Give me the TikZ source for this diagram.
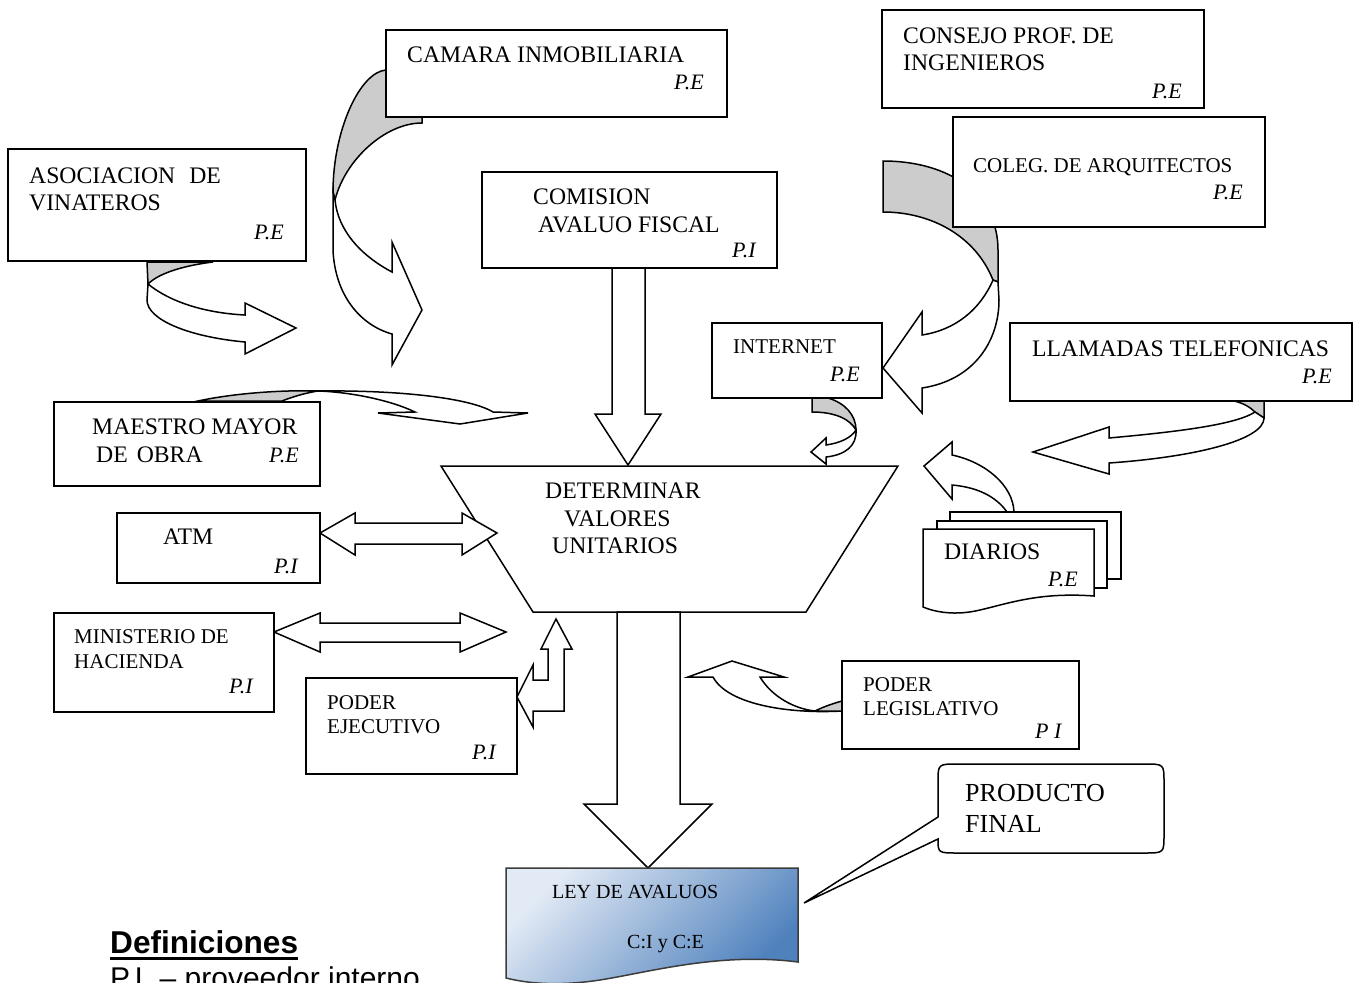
\documentclass[tikz,border=0pt]{standalone}
\usepackage{fontspec}
\setmainfont{Liberation Serif}
\newfontfamily\arialf{Liberation Sans}
\definecolor{shd}{RGB}{204,204,204}
\definecolor{leytop}{RGB}{226,234,245}
\definecolor{leybot}{RGB}{79,129,189}
\definecolor{leyline}{RGB}{60,60,60}
\begin{document}
\begin{tikzpicture}[x=1pt,y=-1pt,line join=miter,
  ln/.style={draw=black,line width=1.5pt},
  wb/.style={ln,fill=white},
  gb/.style={ln,fill=shd},
  tA/.style={anchor=base west,inner sep=0pt,font=\fontsize{23.7}{28}\selectfont},
  tB/.style={anchor=base west,inner sep=0pt,font=\fontsize{21}{25}\selectfont},
  tC/.style={anchor=base west,inner sep=0pt,font=\fontsize{20}{24}\selectfont},
  tD/.style={anchor=base west,inner sep=0pt,font=\fontsize{26}{30}\selectfont},
  pe/.style={anchor=base west,inner sep=0pt,font=\fontsize{22}{26}\selectfont\itshape}]
\useasboundingbox (0,0) rectangle (1353,983);
\clip (0,0) rectangle (1353,983);
\fill[white] (0,0) rectangle (1353,983);

% central trapezoid
\draw[wb] (441,466) -- (898,466) -- (806,612) -- (533,612) -- cycle;

% straight block arrows
\draw[wb] (612,268) -- (612,414) -- (595,414) -- (628,465) -- (661,414) -- (645,414) -- (645,268) -- cycle;
\draw[wb] (617,612) -- (617,804) -- (584,804) -- (648,868) -- (712,804) -- (680,804) -- (680,612) -- cycle;
\draw[wb] (320,533) -- (355,513) -- (355,523) -- (462,523) -- (462,513) -- (497,533) -- (462,555) -- (462,544) -- (355,544) -- (355,555) -- cycle;
\draw[wb] (274,632) -- (320,613) -- (320,623) -- (460,623) -- (460,613) -- (506,632) -- (460,652) -- (460,642) -- (320,642) -- (320,652) -- cycle;
\draw[wb] (517,697) -- (533,665) -- (533,680) -- (548,680) -- (548,649) -- (541,649) -- (556,619) -- (572,649) -- (564,649) -- (564,711) -- (533,711) -- (533,727) -- cycle;

% curved arrows
% legislativo
\draw[wb] (815,711) -- (842,711) .. controls (790,714) and (728,705) .. (713,677) -- (688,677) -- (732,661) -- (784,677) -- (760,677) .. controls (772,697) and (795,709) .. (815,711) -- cycle;
\draw[gb] (815,711) .. controls (825,706) and (835,703) .. (842,701) -- (842,711) -- cycle;
% diarios
\draw[wb] (1007,512) .. controls (995,495) and (975,487) .. (952,485) -- (952,499) -- (924,466) -- (952,442) -- (952,455) .. controls (985,462) and (1013,485) .. (1014,512) -- cycle;
% llamadas
\draw[gb] (1234,401) -- (1264,401) -- (1264,418) -- (1255,412) .. controls (1250,407) and (1243,403) .. (1234,401) -- cycle;
\draw[wb] (1109,438) .. controls (1175,432) and (1235,425) .. (1255,412) -- (1264,418) .. controls (1264,440) and (1195,457) .. (1109,463) -- (1109,474) -- (1033,452) -- (1109,427) -- cycle;
% internet
\draw[gb] (812,398) -- (828,398) .. controls (845,403) and (856,415) .. (856,430) .. controls (850,419) and (835,412) .. (812,412) -- cycle;
\draw[wb] (856,430) .. controls (857,446) and (845,455) .. (826,457) -- (826,464) -- (811,452) -- (826,438) -- (826,445) .. controls (840,443) and (851,438) .. (856,430) -- cycle;
% coleg
\draw[gb] (883,161) .. controls (950,161) and (998,195) .. (998,250) -- (998,282) -- (993,280) .. controls (975,235) and (930,212) .. (883,212) -- cycle;
\draw[wb] (993,280) .. controls (980,310) and (955,330) .. (922,335) -- (922,312) -- (883,368) -- (922,413) -- (922,388) .. controls (975,380) and (999,340) .. (999,300) -- (998,282) -- cycle;
% camara
\draw[gb] (386,70) .. controls (360,72) and (333,130) .. (333,192) -- (335,200) .. controls (345,160) and (385,123) .. (422,123) -- (422,117) -- (386,117) -- cycle;
\draw[wb] (333,192) -- (333,250) .. controls (335,295) and (360,325) .. (392,334) -- (392,365) -- (422,310) -- (392,242) -- (392,272) .. controls (360,255) and (338,230) .. (335,200) -- cycle;
% asociacion
\draw[gb] (147,262) -- (213,262) .. controls (188,265) and (160,272) .. (148,284) -- cycle;
\draw[wb] (148,284) .. controls (170,302) and (205,313) .. (245,315) -- (245,303) -- (296,328) -- (245,354) -- (245,342) .. controls (190,337) and (147,320) .. (147,300) -- cycle;
% maestro
\draw[gb] (198,401) .. controls (240,392) and (290,390) .. (318,391) .. controls (305,393) and (292,397) .. (282,401) -- cycle;
\draw[wb] (318,391) .. controls (400,390) and (470,398) .. (493,412) -- (528,413) -- (460,424) -- (378,413) -- (415,412) .. controls (390,400) and (350,392) .. (318,391) -- cycle;

% boxes
\draw[wb] (8,149) rectangle (306,261);
\draw[wb] (386,30) rectangle (727,117);
\draw[wb] (482,172) rectangle (777,268);
\draw[wb] (882,10) rectangle (1204,108);
\draw[wb] (953,117) rectangle (1265,227);
\draw[wb] (712,323) rectangle (882,398);
\draw[wb] (1010,323) rectangle (1352,401);
\draw[wb] (54,402) rectangle (320,486);
\draw[wb] (117,513) rectangle (320,583);
\draw[wb] (54,613) rectangle (274,712);
\draw[wb] (306,678) rectangle (517,774);
\draw[wb] (842,661) rectangle (1079,749);

% diarios multi-document
\draw[wb] (950,512) rectangle (1121,579);
\draw[wb] (937,521) rectangle (1107,588);
\draw[wb] (923,529) -- (1094,529) -- (1094,596) .. controls (1040,592) and (1010,603) .. (980,610) .. controls (955,616) and (935,612) .. (923,607) -- cycle;

% ley de avaluos document
\path[draw=leyline,line width=1.5pt,top color=leytop,bottom color=leybot,shading angle=45]
  (506,868) -- (798,868) -- (798,962) .. controls (720,952) and (650,972) .. (600,980) .. controls (560,986) and (530,984) .. (506,978) -- cycle;

% callout
\draw[wb] (938,817) -- (938,782) .. controls (938,764) .. (958,764) -- (1144,764) .. controls (1164,764) .. (1164,782) -- (1164,835) .. controls (1164,853) .. (1144,853) -- (958,853) .. controls (938,853) .. (938,839) -- (804,903) -- cycle;

% texts
\node[tA] (asoc1) at (29,183) {ASOCIACION\hspace{14pt}DE};
\node[tA] (asoc2) at (29,210) {VINATEROS};
\node[pe] (asocp) at (254,239) {P.E};
\node[tA] (cam1) at (407,62) {CAMARA INMOBILIARIA};
\node[pe] (camp) at (674,89) {P.E};
\node[tA] (com1) at (533,204) {COMISION};
\node[tA] (com2) at (538,232) {AVALUO FISCAL};
\node[pe] (comp) at (732,257) {P.I};
\node[tA] (cons1) at (903,43) {CONSEJO PROF. DE};
\node[tA] (cons2) at (903,70) {INGENIEROS};
\node[pe] (consp) at (1152,98) {P.E};
\node[tB] (col1) at (973,172) {COLEG. DE ARQUITECTOS};
\node[pe] (colp) at (1213,199) {P.E};
\node[tB] (int1) at (733,353) {INTERNET};
\node[pe] (intp) at (830,381) {P.E};
\node[tA] (lla1) at (1032,356) {LLAMADAS TELEFONICAS};
\node[pe] (llap) at (1302,383) {P.E};
\node[tA] (mae1) at (92,434) {MAESTRO MAYOR};
\node[tA] (mae2) at (96,462) {DE\hspace{9pt}OBRA};
\node[pe] (maep) at (269,462) {P.E};
\node[tA] (atm1) at (163,544) {ATM};
\node[pe] (atmp) at (274,573) {P.I};
\node[tB] (min1) at (74,643) {MINISTERIO DE};
\node[tB] (min2) at (74,668) {HACIENDA};
\node[pe] (minp) at (229,693) {P.I};
\node[tB] (pej1) at (327,709) {PODER};
\node[tB] (pej2) at (327,733) {EJECUTIVO};
\node[pe] (pejp) at (472,759) {P.I};
\node[tB] (pleg1) at (863,691) {PODER};
\node[tB] (pleg2) at (863,715) {LEGISLATIVO};
\node[pe] (plegp) at (1035,738) {P I};
\node[tA] (det1) at (545,498) {DETERMINAR};
\node[tA] (det2) at (564,526) {VALORES};
\node[tA] (det3) at (552,553) {UNITARIOS};
\node[tA] (dia1) at (944,559) {DIARIOS};
\node[pe] (diap) at (1048,586) {P.E};
\node[tC] (ley1) at (552,898) {LEY DE AVALUOS};
\node[tC] (ley2) at (627,948) {C:I y C:E};
\node[tD] (prod1) at (965,801) {PRODUCTO};
\node[tD] (prod2) at (965,832) {FINAL};
\node[anchor=base west,inner sep=0pt,font=\arialf\bfseries\fontsize{31.6}{36}\selectfont] (def) at (110,953) {Definiciones};
\draw[line width=2.8pt] ([yshift=-5.5pt]def.base west) -- ([yshift=-5.5pt]def.base east);
\node[anchor=base west,inner sep=0pt,font=\arialf\fontsize{30}{34}\selectfont] (defpi) at (110,988) {P.I. – proveedor interno};
\end{tikzpicture}
\end{document}
